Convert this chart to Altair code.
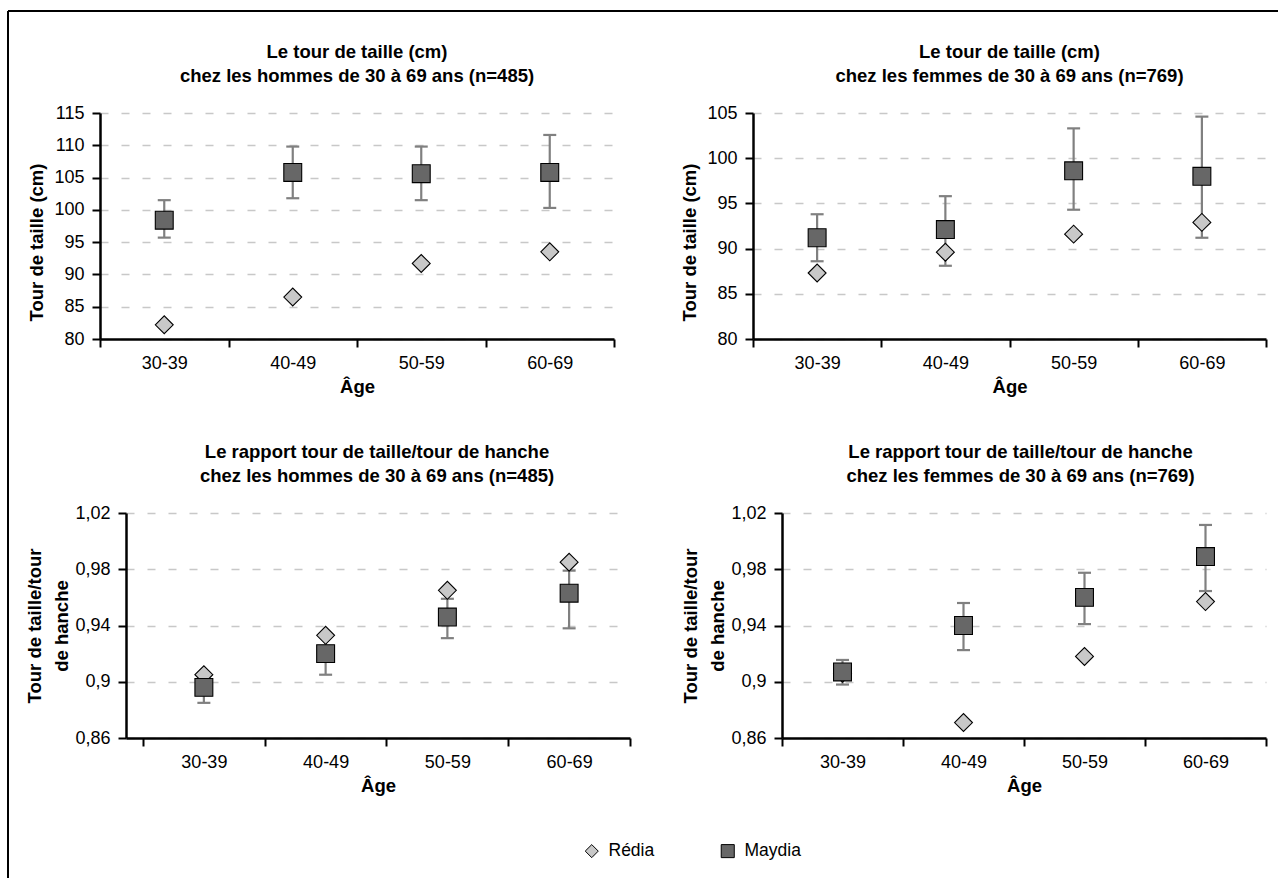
import altair as alt
import pandas as pd

ages = ["30-39", "40-49", "50-59", "60-69"]
series = ["Rédia", "Maydia"]

# Tour de taille, hommes (cm)
h_taille_redia = [82.2, 86.5, 91.7, 93.5]
h_taille_maydia = [98.4, 105.8, 105.6, 105.8]
h_taille_lo = [95.7, 101.8, 101.5, 100.3]
h_taille_hi = [101.5, 109.8, 109.8, 111.6]

# Tour de taille, femmes (cm)
f_taille_redia = [87.3, 89.6, 91.6, 92.9]
f_taille_maydia = [91.2, 92.1, 98.6, 98.0]
f_taille_lo = [88.6, 88.1, 94.3, 91.2]
f_taille_hi = [93.8, 95.8, 103.3, 104.6]

# Rapport tour de taille / tour de hanche, hommes
h_rth_redia = [0.905, 0.933, 0.965, 0.985]
h_rth_maydia = [0.896, 0.920, 0.946, 0.963]
h_rth_lo = [0.885, 0.905, 0.931, 0.938]
h_rth_hi = [0.906, 0.933, 0.959, 0.979]

# Rapport tour de taille / tour de hanche, femmes
f_rth_redia = [0.906, 0.871, 0.918, 0.957]
f_rth_maydia = [0.907, 0.940, 0.960, 0.989]
f_rth_lo = [0.898, 0.9225, 0.941, 0.9645]
f_rth_hi = [0.9155, 0.956, 0.9775, 1.0115]

taille_ticks_h = [80, 85, 90, 95, 100, 105, 110, 115]
taille_ticks_f = [80, 85, 90, 95, 100, 105]
rth_ticks = [0.86, 0.90, 0.94, 0.98, 1.02]

FONT = "Liberation Sans"
BLACK = "#000000"
ERR = "#808080"
GRID = "#c8c8c8"

shape_scale = alt.Scale(domain=series, range=["diamond", "square"])
fill_scale = alt.Scale(domain=series, range=["#c8c8c8", "#676767"])
stroke_scale = alt.Scale(domain=series, range=[BLACK, BLACK])
legend = alt.Legend(
    title=None, orient="none", legendX=483, legendY=729, direction="horizontal",
    labelFontSize=17.5, labelFont=FONT, labelColor=BLACK, symbolSize=170,
    symbolStrokeColor=BLACK, symbolStrokeWidth=1, columnPadding=64, labelOffset=8,
    symbolOpacity=1,
)


def panel(redia, maydia, lo, hi, title, ytitle, ydomain, yvalues, width, height,
          x_range=None, x_pad=0.0, y_offset=0, ratio=False, title_dx=0,
          ytitle_y=None):
    pts = pd.DataFrame({"age": ages * 2,
                        "serie": ["Rédia"] * 4 + ["Maydia"] * 4,
                        "val": redia + maydia})
    err = pd.DataFrame({"age": ages, "lo": lo, "hi": hi})
    caps = pd.DataFrame({"age": ages * 2, "cap": lo + hi})

    xs = dict(domain=ages, paddingInner=0, paddingOuter=x_pad)
    if x_range is not None:
        xs["range"] = x_range
        xs["align"] = 1
    xscale = alt.Scale(**xs)
    xaxis = alt.Axis(title="Âge", labelAngle=0, tickBand="extent", grid=False,
                     tickSize=8, labelPadding=7, titlePadding=5,
                     labelFontSize=18, titleFontSize=18.5)
    yaxis_kw = dict(values=yvalues, title=ytitle, grid=True, gridDash=[8, 13],
                    gridColor=GRID, gridWidth=1.3, tickSize=8, labelPadding=8,
                    titlePadding=3 if ratio else 7, labelFontSize=18,
                    titleFontSize=18.5, titleLineHeight=27, offset=y_offset)
    if ytitle_y is not None:
        yaxis_kw["titleY"] = ytitle_y
    if ratio:
        yaxis_kw["labelExpr"] = "replace(format(datum.value, '.2~f'), '.', ',')"
    yaxis = alt.Axis(**yaxis_kw)
    yscale = alt.Scale(domain=ydomain, nice=False, zero=False)

    X = alt.X("age:N", sort=ages, scale=xscale, axis=xaxis)

    bars = alt.Chart(err).mark_rule(color=ERR, strokeWidth=2.2).encode(
        x=X, y=alt.Y("lo:Q", scale=yscale, axis=yaxis), y2="hi:Q")
    capm = alt.Chart(caps).mark_tick(color=ERR, thickness=2.2, size=13, opacity=1).encode(
        x=X, y=alt.Y("cap:Q", scale=yscale, axis=yaxis))

    def points(name):
        return alt.Chart(pts).transform_filter(
            alt.datum.serie == name
        ).mark_point(filled=True, size=320, strokeWidth=1.1, opacity=1).encode(
            x=X, y=alt.Y("val:Q", scale=yscale, axis=yaxis),
            shape=alt.Shape("serie:N", scale=shape_scale, legend=legend),
            fill=alt.Fill("serie:N", scale=fill_scale, legend=legend),
            stroke=alt.Stroke("serie:N", scale=stroke_scale, legend=legend),
        )

    return alt.layer(bars, capm, points("Rédia"), points("Maydia")).properties(
        width=width, height=height,
        title=alt.TitleParams(text=title, dx=title_dx, offset=19, lineHeight=24,
                              fontSize=18.5, fontWeight="bold", anchor="middle",
                              color=BLACK, font=FONT),
    )


tl = panel(h_taille_redia, h_taille_maydia, h_taille_lo, h_taille_hi,
           ["Le tour de taille (cm)", "chez les hommes de 30 à 69 ans (n=485)"],
           "Tour de taille (cm)", [80, 115], taille_ticks_h, 514, 226,
           ytitle_y=129)
tr = panel(f_taille_redia, f_taille_maydia, f_taille_lo, f_taille_hi,
           ["Le tour de taille (cm)", "chez les femmes de 30 à 69 ans (n=769)"],
           "Tour de taille (cm)", [80, 105], taille_ticks_f, 513, 226,
           ytitle_y=129)
bl = panel(h_rth_redia, h_rth_maydia, h_rth_lo, h_rth_hi,
           ["Le rapport tour de taille/tour de hanche", "chez les hommes de 30 à 69 ans (n=485)"],
           ["Tour de taille/tour", "de hanche"], [0.86, 1.02], rth_ticks, 530, 225,
           x_range=[26, 530], x_pad=0.0698, y_offset=-26, ratio=True, title_dx=12)
br = panel(f_rth_redia, f_rth_maydia, f_rth_lo, f_rth_hi,
           ["Le rapport tour de taille/tour de hanche", "chez les femmes de 30 à 69 ans (n=769)"],
           ["Tour de taille/tour", "de hanche"], [0.86, 1.02], rth_ticks, 513, 225,
           x_range=[29, 513], x_pad=0.0, y_offset=-29, ratio=True, title_dx=11)

# Outer frame of the figure (top and left edges), in its own untitled cell
# whose origin lies 799 px below the first panel's origin.
one = pd.DataFrame({"k": [0]})
frame_top = alt.Chart(one).mark_rule(color=BLACK, strokeWidth=2).encode(
    x=alt.value(-92), x2=alt.value(1178), y=alt.value(-901))
frame_left = alt.Chart(one).mark_rule(color=BLACK, strokeWidth=2).encode(
    x=alt.value(-92), y=alt.value(-901), y2=alt.value(-34))
frame = alt.layer(frame_top, frame_left).properties(width=1, height=1)

chart = alt.concat(
    tl, tr, bl, br, frame, columns=2, spacing={"row": 174, "column": 123},
    bounds="flush",
).resolve_scale(
    x="independent", y="independent", shape="shared", fill="shared",
    stroke="shared",
).properties(
    padding={"left": 7, "top": 10, "right": 0, "bottom": 0},
    background="white",
).configure(
    font=FONT,
).configure_view(
    stroke=None,
).configure_axis(
    domainColor=BLACK, domainWidth=2.5, tickColor=BLACK, tickWidth=2,
    labelColor=BLACK, titleColor=BLACK, labelFont=FONT, titleFont=FONT,
    titleFontWeight="bold",
)

chart.save("out.html", embed_options={"renderer": "svg", "actions": False})
